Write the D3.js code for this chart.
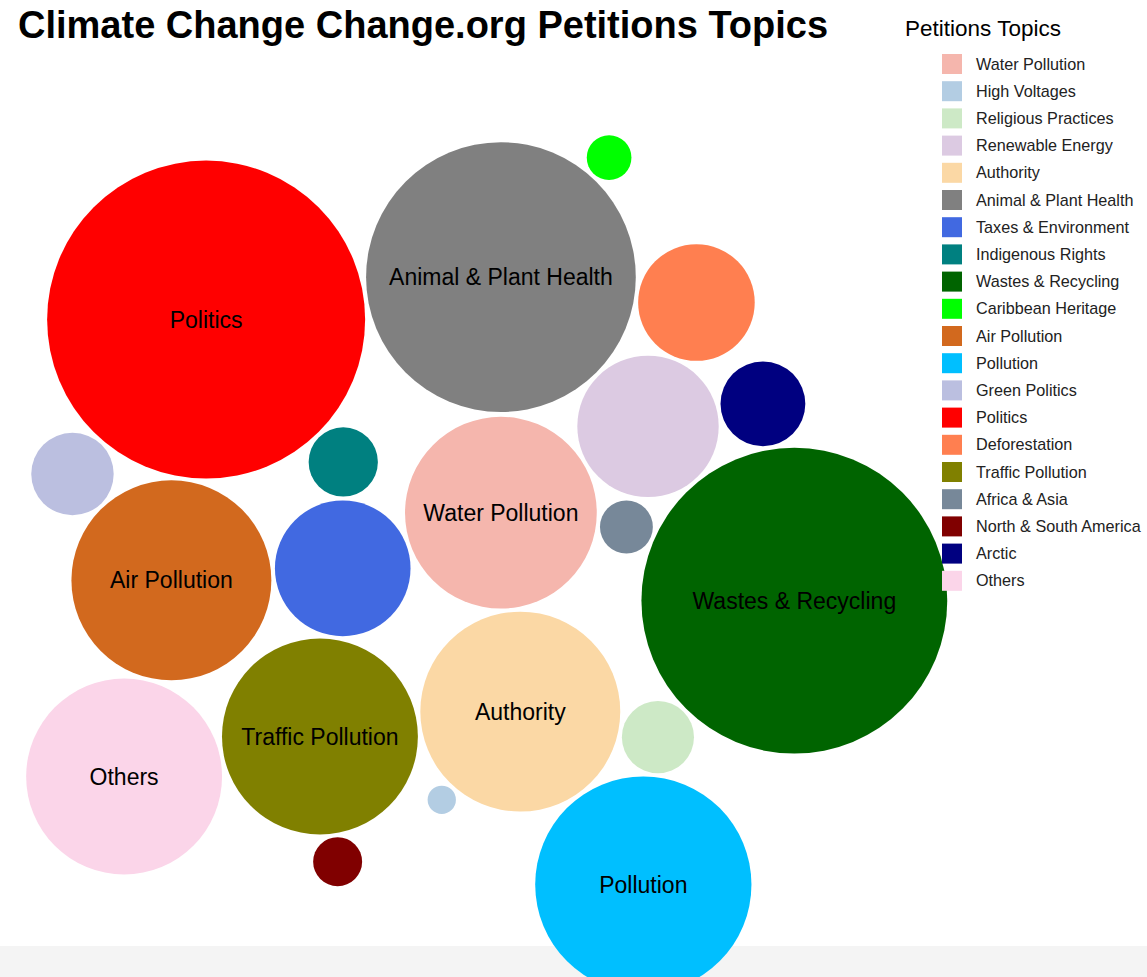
<!DOCTYPE html>
<html>
<head>
<meta charset="utf-8">
<script src="https://cdn.jsdelivr.net/npm/d3@7"></script>
<style>
  body { margin: 0; background: #fff; font-family: "Liberation Sans", Arial, Helvetica, sans-serif; }
  svg { display: block; }
</style>
</head>
<body>
<svg id="chart" width="1147" height="977"></svg>
<script>
// Topics in legend order, with petition counts and colours.
const topics = [
  'Water Pollution', 'High Voltages', 'Religious Practices', 'Renewable Energy',
  'Authority', 'Animal & Plant Health', 'Taxes & Environment', 'Indigenous Rights',
  'Wastes & Recycling', 'Caribbean Heritage', 'Air Pollution', 'Pollution',
  'Green Politics', 'Politics', 'Deforestation', 'Traffic Pollution',
  'Africa & Asia', 'North & South America', 'Arctic', 'Others'
];
const counts = [92, 2, 13, 50, 100, 182, 46, 12, 234, 5, 100, 117, 17, 253, 34, 96, 7, 6, 18, 96];
const colors = [
  '#f5b6ad', '#b3cde3', '#cde9c6', '#dccae2', '#fbd8a5', '#808080', '#4169e1', '#008080',
  '#006400', '#00ff00', '#d2691e', '#00bfff', '#bbbfe0', '#ff0000', '#ff7f50', '#808000',
  '#778899', '#800000', '#000080', '#fbd5e9'
];
// order in which the bubbles are fed to the simulation (inner ones first)
const packOrder = [
  'Water Pollution', 'Taxes & Environment', 'Renewable Energy', 'Authority', 'Indigenous Rights',
  'Africa & Asia', 'Traffic Pollution', 'Animal & Plant Health', 'Religious Practices', 'Air Pollution',
  'Deforestation', 'High Voltages', 'Politics', 'Wastes & Recycling', 'Others',
  'Caribbean Heritage', 'Pollution', 'Green Politics', 'Arctic', 'North & South America'
];

const svg = d3.select('#chart');
const width = 1147;
const height = 977;
const cx = 466, cy = 556;

// page strip at the bottom
svg.append('rect')
  .attr('x', 0).attr('y', 946).attr('width', width).attr('height', height - 946)
  .attr('fill', '#f4f4f4');

const r = d3.scaleSqrt().domain([0, d3.max(counts)]).range([0, 159]);

const nodes = topics.map((t, i) => ({ name: t, value: counts[i], color: colors[i], r: r(counts[i]) }));
const simNodes = packOrder.map((name) => nodes.find((d) => d.name === name));

// d3 seeds the nodes on a phyllotaxis spiral; spread and turn it before relaxing
const simulation = d3.forceSimulation(simNodes).stop();
const turn = 0.35, spread = 10;
simNodes.forEach((d) => {
  const x = d.x * spread, y = d.y * spread;
  d.x = cx + x * Math.cos(turn) - y * Math.sin(turn);
  d.y = cy + x * Math.sin(turn) + y * Math.cos(turn);
});
simulation
  .force('center', d3.forceCenter(cx, cy))
  .force('x', d3.forceX(cx).strength(0.005))
  .force('y', d3.forceY(cy).strength(0.005))
  .force('collide', d3.forceCollide((d) => d.r + 2).strength(0.7).iterations(2));
for (let i = 0; i < 300; i++) simulation.tick();

const bubble = svg.append('g').selectAll('g')
  .data(nodes)
  .join('g')
  .attr('transform', (d) => `translate(${d.x},${d.y})`);

bubble.append('circle')
  .attr('r', (d) => d.r)
  .attr('fill', (d) => d.color);

bubble.filter((d) => d.r > 85)
  .append('text')
  .attr('text-anchor', 'middle')
  .attr('dy', '0.35em')
  .style('font-size', '23px')
  .attr('fill', '#000')
  .text((d) => d.name);

// Title
svg.append('text')
  .attr('x', 18).attr('y', 38)
  .style('font-size', '38px')
  .style('font-weight', 'bold')
  .text('Climate Change Change.org Petitions Topics');

// Legend
const legend = svg.append('g').attr('transform', 'translate(905,0)');
legend.append('text')
  .attr('x', 0).attr('y', 36)
  .style('font-size', '22.5px')
  .text('Petitions Topics');

const row = legend.selectAll('g.row')
  .data(nodes)
  .join('g')
  .attr('class', 'row')
  .attr('transform', (d, i) => `translate(37,${54 + i * 27.2})`);
row.append('rect')
  .attr('width', 20).attr('height', 20)
  .attr('fill', (d) => d.color);
row.append('text')
  .attr('x', 34).attr('y', 10)
  .attr('dy', '0.35em')
  .style('font-size', '16.2px')
  .attr('fill', '#222')
  .text((d) => d.name);
</script>
</body>
</html>
